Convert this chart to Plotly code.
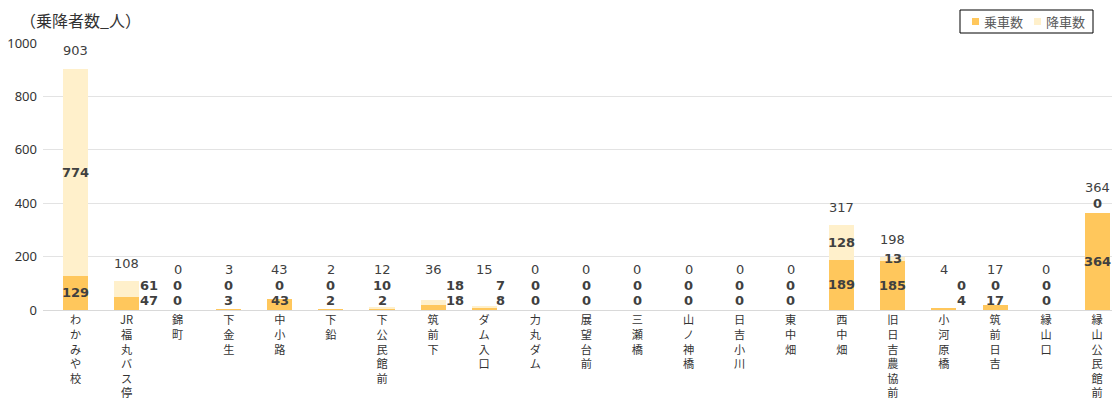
'''
    Stacked bar chart of passengers getting on / off at each bus stop.
'''

import plotly.graph_objects as go

STOPS = [
    'わかみや校', 'JR福丸バス停', '錦町', '下金生', '中小路', '下鉛', '下公民館前',
    '筑前下', 'ダム入口', '力丸ダム', '展望台前', '三瀬橋', '山ノ神橋', '日吉小川',
    '東中畑', '西中畑', '旧日吉農協前', '小河原橋', '筑前日吉', '縁山口', '縁山公民館前',
]
BOARDING = [129, 47, 0, 3, 43, 2, 2, 18, 8, 0, 0, 0, 0, 0, 0, 189, 185, 4, 17, 0, 364]
ALIGHTING = [774, 61, 0, 0, 0, 0, 10, 18, 7, 0, 0, 0, 0, 0, 0, 128, 13, 0, 0, 0, 0]
SERIES_NAMES = ['乗車数', '降車数']
Y_TICKS = [0, 200, 400, 600, 800, 1000]

WIDTH, HEIGHT = 1115, 403
MARGIN = dict(l=43, r=3, t=43, b=93, pad=0)
Y_MAX = 1000
PLOT_W = WIDTH - MARGIN['l'] - MARGIN['r']
PLOT_H = HEIGHT - MARGIN['t'] - MARGIN['b']
PX_PER_UNIT = PLOT_H / Y_MAX

COLORS = ['#FFC75C', '#FFF0CB']
TEXT_COLOR = '#404040'
NUM_FONT = 'DejaVu Sans'
JP_FONT = 'Noto Sans CJK JP'

# stops where the segment labels sit beside the bar (pixels to the right)
LABEL_SHIFT_X = {'JR福丸バス停': 22, '筑前下': 22, 'ダム入口': 16, '小河原橋': 18}


def px_x(x):
    '''Page pixel column -> paper x.'''
    return (x - MARGIN['l']) / PLOT_W


def px_y(y):
    '''Page pixel row -> paper y.'''
    return 1 - (y - MARGIN['t']) / PLOT_H


def vertical(name):
    '''
        Stacks the characters of a stop name one per line.
    '''
    if name.startswith('JR'):
        chars = ['JR'] + list(name[2:])
    else:
        chars = list(name)
    return '<br>'.join(chars)


def label_offsets(b, a):
    '''
        Heights (in pixels above the axis) of the boarding, alighting
        and total labels, so that small bars keep readable labels.
    '''
    b_px = b * PX_PER_UNIT
    a_px = a * PX_PER_UNIT
    top_px = b_px + a_px
    board = max(b_px / 2, 10)
    if a == 0:
        alight = max(top_px + 9, board + 15)
    else:
        alight = max(b_px + a_px / 2, board + 15)
    total = max(top_px + 18, alight + 16)
    return board, alight, total


fig = go.Figure()

for name, values, color in zip(SERIES_NAMES, (BOARDING, ALIGHTING), COLORS):
    fig.add_trace(go.Bar(
        x=STOPS, y=values, name=name,
        marker=dict(color=color, line=dict(width=0)),
        width=0.49, hoverinfo='skip',
    ))

annotations = []
for stop, b, a in zip(STOPS, BOARDING, ALIGHTING):
    board, alight, total = label_offsets(b, a)
    shift = LABEL_SHIFT_X.get(stop, 0)
    for value, px, dx, bold in (
        (b, board, shift, True),
        (a, alight, shift, True),
        (b + a, total, 0, False),
    ):
        annotations.append(dict(
            x=stop, y=px / PX_PER_UNIT, xref='x', yref='y',
            text=f'<b>{value}</b>' if bold else str(value),
            showarrow=False, xanchor='center', yanchor='middle',
            xshift=dx,
            font=dict(family=NUM_FONT, size=13, color=TEXT_COLOR),
        ))

# axis title drawn at the top-left corner
annotations.append(dict(
    text='（乗降者数_人）',
    xref='paper', yref='paper',
    x=px_x(18), y=px_y(20),
    xanchor='left', yanchor='middle', showarrow=False,
    font=dict(family=JP_FONT, size=16, color='#333333'),
))

# compact boxed legend like the original (plotly's own legend is too wide)
shapes = [dict(
    type='rect', xref='paper', yref='paper',
    x0=px_x(960), x1=px_x(1093), y0=px_y(33), y1=px_y(10),
    line=dict(color='black', width=1), fillcolor='white', layer='above',
)]
for name, color, left in zip(SERIES_NAMES, COLORS, (972, 1034)):
    shapes.append(dict(
        type='rect', xref='paper', yref='paper',
        x0=px_x(left), x1=px_x(left + 7), y0=px_y(25), y1=px_y(18),
        line=dict(width=0), fillcolor=color, layer='above',
    ))
    annotations.append(dict(
        text=name, xref='paper', yref='paper',
        x=px_x(left + 10), y=px_y(21.5),
        xanchor='left', yanchor='middle', showarrow=False,
        font=dict(family=JP_FONT, size=13, color='#595959'),
    ))

fig.update_layout(
    width=WIDTH, height=HEIGHT,
    margin=MARGIN,
    barmode='stack',
    bargap=0,
    plot_bgcolor='white',
    paper_bgcolor='white',
    annotations=annotations,
    shapes=shapes,
    showlegend=False,
    xaxis=dict(
        tickmode='array',
        tickvals=STOPS,
        ticktext=[vertical(s) for s in STOPS],
        range=[-0.636, 20.29],
        showline=True, linecolor='#D9D9D9', linewidth=1,
        showgrid=False, ticks='',
        tickangle=0,
        tickfont=dict(family=JP_FONT, size=11.2, color='#333333'),
        automargin=False,
        fixedrange=True,
    ),
    yaxis=dict(
        range=[0, Y_MAX],
        tickvals=Y_TICKS,
        showgrid=True, gridcolor='#E3E3E3', gridwidth=1,
        zeroline=False, showline=False, ticks='',
        ticklabelstandoff=5,
        tickfont=dict(family='Noto Sans', size=13, color='#333333'),
        automargin=False,
        fixedrange=True,
    ),
)

# the page body has a default 8px margin; drop it so the figure fills the window
fig.write_html(
    'out.html',
    config={'displayModeBar': False},
    post_script="document.body.style.margin='0';",
)
